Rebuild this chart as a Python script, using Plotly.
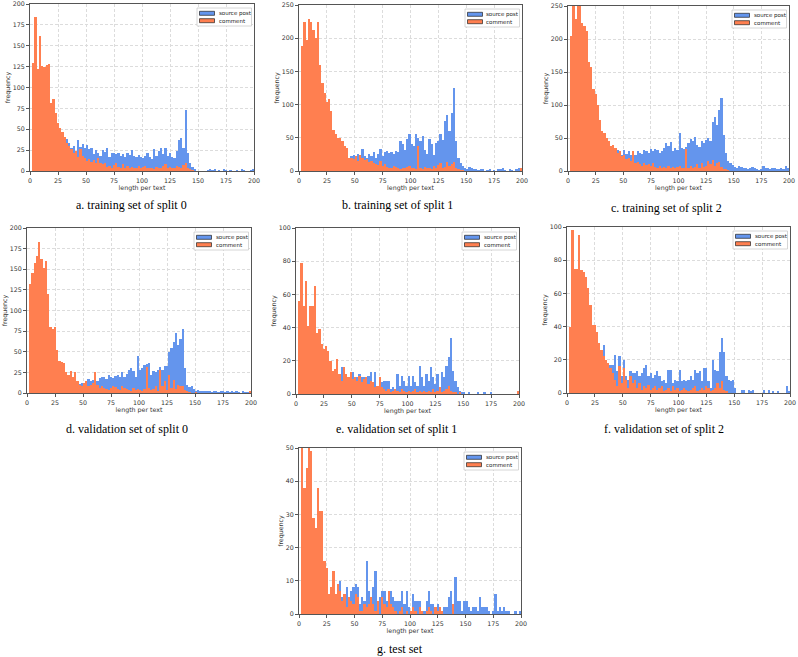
import numpy as np
import plotly.graph_objects as go

W, H = 798, 657

# ---------------- data (counts per 2-unit bin, 0..200) ----------------
bin_left = list(range(0, 200, 2))
x_ticks = [0, 25, 50, 75, 100, 125, 150, 175, 200]

post_a = [0, 5, 8, 6, 9, 7, 10, 8, 9, 11,
          12, 14, 18, 20, 22, 25, 38, 33, 28, 30,
          24, 37, 29, 32, 27, 31, 26, 27, 20, 25,
          22, 18, 25, 23, 28, 17, 21, 22, 20, 22,
          18, 20, 17, 22, 19, 25, 18, 17, 19, 17,
          16, 18, 22, 17, 14, 26, 18, 24, 27, 20,
          28, 18, 22, 17, 15, 24, 37, 40, 28, 73,
          22, 10, 5, 2, 0, 0, 0, 0, 0, 1,
          2, 1, 2, 0, 1, 0, 2, 1, 0, 1,
          0, 0, 1, 0, 2, 1, 0, 0, 1, 2]
comment_a = [0, 129, 184, 122, 162, 126, 125, 127, 128, 81,
             86, 69, 58, 52, 47, 41, 33, 30, 26, 22,
             24, 17, 26, 18, 15, 12, 14, 11, 13, 9,
             15, 10, 8, 9, 5, 6, 4, 7, 9, 5,
             4, 8, 4, 6, 3, 5, 4, 3, 6, 4,
             5, 6, 4, 3, 4, 2, 5, 4, 3, 6,
             8, 4, 5, 3, 4, 6, 5, 4, 7, 10,
             4, 2, 1, 0, 0, 0, 0, 0, 0, 0,
             0, 0, 0, 0, 0, 0, 0, 0, 0, 0,
             0, 0, 0, 0, 0, 0, 0, 0, 0, 0]

post_b = [0, 5, 8, 10, 12, 9, 11, 14, 13, 15,
          16, 14, 18, 20, 17, 22, 19, 24, 21, 25,
          25, 22, 20, 22, 24, 20, 26, 22, 33, 22,
          20, 26, 22, 28, 20, 25, 33, 22, 28, 30,
          27, 28, 26, 30, 28, 45, 40, 32, 48, 55,
          40, 38, 55, 50, 45, 53, 32, 25, 48, 40,
          24, 42, 45, 55, 47, 75, 85, 60, 88, 125,
          45, 20, 12, 8, 5, 3, 6, 4, 2, 3,
          1, 2, 3, 0, 1, 2, 0, 1, 0, 3,
          2, 4, 1, 0, 3, 1, 0, 2, 4, 0]
comment_b = [0, 188, 225, 197, 229, 225, 212, 200, 225, 160,
             132, 118, 104, 108, 90, 62, 55, 50, 50, 45,
             38, 35, 20, 20, 18, 22, 15, 24, 20, 16,
             18, 14, 15, 12, 10, 9, 15, 8, 10, 6,
             5, 4, 7, 6, 5, 3, 5, 4, 6, 8,
             5, 4, 3, 38, 4, 3, 6, 4, 5, 3,
             7, 4, 9, 12, 5, 6, 13, 8, 11, 14,
             4, 2, 1, 1, 0, 0, 0, 0, 0, 0,
             0, 0, 0, 0, 0, 0, 0, 0, 0, 0,
             0, 0, 0, 0, 0, 0, 0, 0, 0, 5]

post_c = [0, 5, 8, 10, 9, 12, 10, 14, 12, 15,
          16, 15, 18, 20, 18, 22, 20, 25, 24, 30,
          30, 28, 32, 27, 24, 32, 26, 30, 25, 28,
          24, 30, 28, 26, 32, 30, 28, 33, 30, 34,
          32, 28, 30, 35, 42, 38, 44, 30, 35, 32,
          57, 35, 33, 36, 42, 48, 46, 52, 40, 36,
          45, 42, 47, 50, 45, 75, 82, 70, 92, 110,
          55, 28, 15, 12, 9, 6, 4, 7, 6, 5,
          4, 3, 4, 6, 5, 2, 1, 3, 8, 5,
          4, 3, 5, 4, 2, 3, 5, 2, 7, 4]
comment_c = [0, 205, 265, 230, 275, 290, 225, 220, 212, 165,
             158, 125, 117, 100, 78, 60, 58, 50, 45, 38,
             40, 35, 28, 30, 22, 25, 18, 20, 15, 30,
             12, 14, 10, 8, 12, 9, 10, 8, 12, 6,
             5, 7, 4, 6, 5, 8, 4, 6, 5, 6,
             7, 4, 5, 34, 5, 8, 4, 6, 10, 5,
             12, 6, 8, 15, 10, 17, 8, 12, 14, 6,
             3, 2, 1, 0, 0, 0, 0, 0, 0, 0,
             0, 0, 0, 0, 0, 0, 0, 0, 0, 0,
             0, 0, 0, 0, 0, 0, 0, 0, 0, 0]

post_d = [0, 3, 5, 6, 4, 8, 6, 9, 7, 10,
          8, 10, 12, 9, 13, 11, 14, 12, 13, 15,
          12, 10, 13, 11, 12, 10, 11, 17, 14, 16,
          15, 14, 18, 20, 19, 17, 22, 20, 18, 21,
          22, 19, 25, 20, 23, 28, 30, 27, 20, 45,
          28, 30, 34, 35, 36, 22, 27, 25, 28, 32,
          28, 33, 33, 50, 55, 62, 73, 58, 65, 77,
          30, 10, 7, 8, 5, 3, 4, 2, 3, 2,
          3, 2, 1, 3, 2, 1, 2, 3, 1, 2,
          1, 2, 1, 2, 1, 0, 2, 1, 1, 0]
comment_d = [0, 132, 146, 157, 166, 183, 163, 152, 160, 120,
             80, 78, 80, 52, 39, 37, 36, 25, 22, 27,
             20, 25, 15, 10, 8, 12, 15, 8, 10, 12,
             25, 10, 6, 8, 6, 5, 4, 6, 8, 7,
             5, 4, 8, 6, 5, 4, 3, 6, 4, 5,
             4, 3, 5, 32, 6, 4, 5, 8, 3, 28,
             8, 15, 4, 22, 6, 16, 5, 10, 8, 9,
             4, 2, 1, 0, 0, 1, 0, 0, 0, 0,
             0, 0, 0, 0, 0, 0, 0, 0, 0, 0,
             0, 0, 0, 0, 0, 0, 0, 0, 0, 2]

post_e = [0, 3, 5, 4, 6, 5, 7, 6, 8, 7,
          9, 8, 10, 9, 11, 10, 12, 9, 11, 10,
          16, 16, 10, 10, 12, 13, 5, 10, 12, 10,
          10, 8, 11, 13, 5, 13, 5, 8, 7, 8,
          8, 8, 3, 4, 2, 12, 5, 11, 8, 5,
          11, 5, 11, 7, 5, 17, 10, 5, 12, 8,
          16, 10, 6, 12, 2, 13, 10, 17, 22, 34,
          14, 8, 4, 2, 1, 1, 0, 1, 0, 0,
          0, 1, 0, 0, 1, 0, 0, 1, 0, 0,
          0, 0, 0, 0, 0, 0, 0, 0, 0, 0]
comment_e = [0, 56, 79, 53, 68, 41, 53, 53, 65, 37,
             39, 30, 27, 29, 26, 20, 14, 15, 21, 12,
             8, 16, 12, 10, 13, 9, 10, 8, 11, 7,
             9, 10, 6, 8, 7, 4, 5, 10, 4, 3,
             2, 3, 1, 2, 3, 2, 1, 3, 2, 1,
             2, 1, 2, 3, 1, 2, 1, 2, 1, 2,
             1, 3, 1, 2, 4, 1, 2, 3, 5, 2,
             1, 1, 0, 1, 0, 0, 0, 0, 0, 0,
             0, 0, 0, 0, 0, 0, 0, 0, 0, 0,
             0, 0, 0, 0, 0, 0, 0, 0, 0, 2]

post_f = [0, 4, 6, 5, 8, 7, 10, 9, 12, 11,
          13, 12, 15, 14, 16, 15, 29, 19, 18, 17,
          17, 23, 13, 22, 10, 20, 10, 8, 13, 12,
          12, 13, 10, 12, 15, 17, 10, 12, 9, 11,
          13, 10, 7, 8, 6, 14, 14, 6, 8, 7,
          14, 7, 8, 7, 8, 10, 8, 14, 12, 13,
          7, 15, 15, 7, 3, 20, 14, 13, 25, 33,
          25, 10, 8, 7, 8, 3, 0, 0, 2, 2,
          0, 2, 1, 2, 0, 0, 0, 0, 2, 0,
          2, 0, 1, 0, 1, 0, 0, 0, 4, 1]
comment_f = [0, 40, 98, 75, 75, 95, 74, 73, 70, 63,
             53, 41, 41, 37, 30, 26, 22, 20, 18, 15,
             12, 8, 4, 16, 6, 15, 8, 3, 10, 6,
             8, 3, 6, 2, 4, 3, 5, 2, 3, 4,
             2, 3, 4, 1, 2, 3, 1, 4, 2, 3,
             1, 2, 3, 2, 1, 2, 3, 4, 1, 2,
             3, 2, 4, 3, 1, 2, 3, 6, 3, 7,
             2, 1, 0, 0, 0, 0, 0, 0, 0, 0,
             0, 0, 0, 0, 0, 0, 0, 0, 0, 0,
             0, 0, 0, 0, 0, 0, 0, 0, 0, 0]

post_g = [0, 3, 4, 2, 5, 3, 2, 4, 3, 5,
          4, 6, 5, 4, 7, 3, 5, 8, 10, 5,
          4, 8, 5, 7, 8, 9, 8, 3, 5, 4,
          16, 7, 4, 8, 13, 2, 5, 7, 7, 4,
          5, 7, 5, 4, 4, 4, 7, 3, 7, 2,
          1, 6, 4, 4, 4, 1, 1, 4, 7, 3,
          3, 2, 3, 2, 1, 2, 2, 5, 7, 3,
          11, 4, 4, 1, 4, 4, 2, 1, 2, 2,
          1, 5, 2, 2, 2, 1, 0, 1, 6, 1,
          2, 1, 2, 1, 1, 0, 0, 1, 0, 1]
comment_g = [0, 52, 38, 44, 55, 49, 29, 26, 38, 31,
             31, 16, 14, 6, 8, 13, 6, 9, 7, 4,
             6, 2, 5, 4, 3, 6, 5, 1, 1, 3,
             2, 3, 5, 3, 1, 4, 0, 5, 3, 2,
             7, 3, 2, 1, 0, 1, 2, 0, 1, 0,
             1, 2, 1, 0, 2, 1, 0, 1, 2, 1,
             0, 2, 1, 2, 1, 0, 0, 0, 0, 3,
             0, 0, 0, 0, 0, 0, 0, 0, 0, 0,
             0, 0, 0, 0, 0, 0, 0, 0, 0, 0,
             0, 0, 0, 0, 0, 0, 0, 0, 0, 0]

captions = ["a. training set of split 0", "b. training set of split 1",
            "c. training set of split 2", "d. validation set of split 0",
            "e. validation set of split 1", "f. validation set of split 2",
            "g. test set"]
y_ticks_a = [0, 25, 50, 75, 100, 125, 150, 175, 200]
y_ticks_b = [0, 50, 100, 150, 200, 250]
y_ticks_e = [0, 20, 40, 60, 80, 100]
y_ticks_g = [0, 10, 20, 30, 40, 50]

# ---------------- layout geometry (pixels) ----------------
panels = [
    dict(post=post_a, comment=comment_a, yt=y_ticks_a, box=(30, 4, 254, 171), cap=(131, 205)),
    dict(post=post_b, comment=comment_b, yt=y_ticks_b, box=(299, 5, 522, 171), cap=(397, 205)),
    dict(post=post_c, comment=comment_c, yt=y_ticks_b, box=(568, 6, 789, 171), cap=(666, 208)),
    dict(post=post_d, comment=comment_d, yt=y_ticks_a, box=(27, 228, 251, 393), cap=(127, 429)),
    dict(post=post_e, comment=comment_e, yt=y_ticks_e, box=(296, 228, 519, 394), cap=(396, 429)),
    dict(post=post_f, comment=comment_f, yt=y_ticks_e, box=(567, 227, 790, 393), cap=(664, 429)),
    dict(post=post_g, comment=comment_g, yt=y_ticks_g, box=(299, 448, 521, 614), cap=(400, 649)),
]

BLUE = "#6495ED"
ORANGE = "#FF7F50"
FRAME = "#555555"
GRID = "#dcdcdc"
TXT = "#333333"
FONT = "DejaVu Sans"

fig = go.Figure()
shapes = []
annotations = []

for n, p in enumerate(panels, start=1):
    sfx = "" if n == 1 else str(n)
    x0, y0, x1, y1 = p["box"]
    xa, ya = f"x{sfx}", f"y{sfx}"
    fig.add_trace(go.Bar(x=bin_left, y=p["post"], width=2, offset=0, name="source post",
                         marker=dict(color=BLUE, line=dict(width=0)),
                         xaxis=xa, yaxis=ya, showlegend=False))
    fig.add_trace(go.Bar(x=bin_left, y=p["comment"], width=2, offset=0, name="comment",
                         marker=dict(color=ORANGE, line=dict(width=0)),
                         xaxis=xa, yaxis=ya, showlegend=False))
    common = dict(showline=True, mirror=True, linecolor=FRAME, linewidth=1,
                  ticks="outside", ticklen=3, tickwidth=0.8, tickcolor=FRAME,
                  showgrid=True, gridcolor=GRID, gridwidth=0.8, griddash="3px,2px",
                  zeroline=False, tickfont=dict(size=6.3, color=TXT, family=FONT))
    fig.layout[f"xaxis{sfx}"] = dict(domain=[x0 / W, x1 / W], range=[0, 200], anchor=ya,
                                     tickmode="array", tickvals=x_ticks,
                                     title=dict(text="length per text", standoff=2,
                                                font=dict(size=6.3, color=TXT, family=FONT)),
                                     **common)
    fig.layout[f"yaxis{sfx}"] = dict(domain=[1 - y1 / H, 1 - y0 / H], range=[0, p["yt"][-1]],
                                     anchor=xa, tickmode="array", tickvals=p["yt"],
                                     title=dict(text="frequency", standoff=1,
                                                font=dict(size=6.3, color=TXT, family=FONT)),
                                     **common)
    # legend box (drawn manually to match the compact reference legend)
    bx0, bx1 = x1 - 57, x1 - 2.5
    by0, by1 = y0 + 4, y0 + 22
    shapes.append(dict(type="rect", xref="paper", yref="paper",
                       x0=bx0 / W, x1=bx1 / W, y0=1 - by1 / H, y1=1 - by0 / H,
                       line=dict(color="#cccccc", width=0.8), fillcolor="white", layer="above"))
    for k, (lab, col) in enumerate([("source post", BLUE), ("comment", ORANGE)]):
        py0 = y0 + 7.3 + k * 7.4
        shapes.append(dict(type="rect", xref="paper", yref="paper",
                           x0=(x1 - 54.5) / W, x1=(x1 - 39.5) / W,
                           y0=1 - (py0 + 4) / H, y1=1 - py0 / H,
                           line=dict(color="#222222", width=0.7), fillcolor=col, layer="above"))
        annotations.append(dict(text=lab, xref="paper", yref="paper",
                                x=(x1 - 37.5) / W, y=1 - (py0 + 2) / H,
                                xanchor="left", yanchor="middle", showarrow=False,
                                font=dict(size=5.5, color="#222222", family=FONT)))
    annotations.append(dict(text=captions[n - 1], xref="paper", yref="paper",
                            x=p["cap"][0] / W, y=1 - p["cap"][1] / H,
                            xanchor="center", yanchor="middle", showarrow=False,
                            font=dict(size=12, color="black", family="Liberation Serif")))

fig.update_layout(template="none", width=W, height=H,
                  margin=dict(l=0, r=0, t=0, b=0),
                  paper_bgcolor="white", plot_bgcolor="white",
                  barmode="overlay", bargap=0, showlegend=False,
                  font=dict(family=FONT, size=7, color=TXT),
                  shapes=shapes, annotations=annotations)

fig.write_html("out.html", config={"displayModeBar": False},
               post_script="document.body.style.margin='0';")
